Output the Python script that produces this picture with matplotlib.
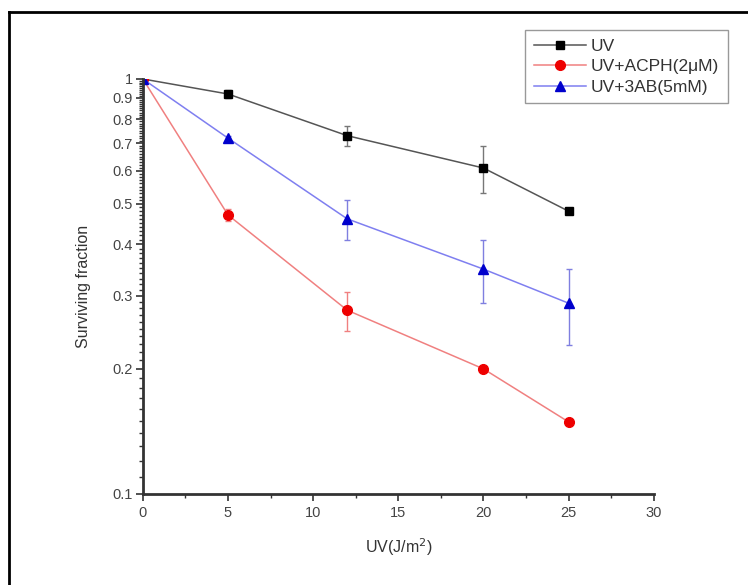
import numpy as np
import matplotlib as mpl
mpl.use('Agg')
import matplotlib.pyplot as plt
from matplotlib.ticker import FixedLocator, FixedFormatter, MultipleLocator
from matplotlib.lines import Line2D

#dose values and surviving fractions
dose = [0, 5, 12, 20, 25]
uv = [1.0, 0.92, 0.73, 0.61, 0.48]
uv_err = [0.0, 0.02, 0.04, 0.08, 0.0]
acph = [1.0, 0.47, 0.277, 0.20, 0.149]
acph_err = [0.0, 0.015, 0.03, 0.0, 0.0]
ab = [1.0, 0.72, 0.46, 0.348, 0.288]
ab_err = [0.0, 0.01, 0.05, 0.06, 0.06]

labels = ["UV", "UV+ACPH(2\u03bcM)", "UV+3AB(5mM)"]
ytick_vals = [0.1, 0.2, 0.3, 0.4, 0.5, 0.6, 0.7, 0.8, 0.9, 1.0]
ytick_text = ["0.1", "0.2", "0.3", "0.4", "0.5", "0.6", "0.7", "0.8", "0.9", "1"]

plt.rcParams['font.family'] = ['Liberation Sans', 'DejaVu Sans']

fig = plt.figure(figsize=(7.48, 5.85), dpi=100)
ax = fig.add_axes([0.191, 0.156, 0.683, 0.709])

#black / red / blue series, lines lighter than markers like in the original
styles = [
   dict(color='#555555', marker='s', ms=6, mfc='black', ecolor='#777777'),
   dict(color='#f08080', marker='o', ms=7, mfc='#ee0000', ecolor='#f08080'),
   dict(color='#7f7ff0', marker='^', ms=7, mfc='#0000cc', ecolor='#7f7fe0'),
]
handles = []
for vals, errs, st in zip([uv, acph, ab], [uv_err, acph_err, ab_err], styles):
   ax.errorbar(dose, vals, yerr=errs, color=st['color'], lw=1.1, marker=st['marker'],
               ms=st['ms'], mfc=st['mfc'], mec=st['mfc'], ecolor=st['ecolor'],
               elinewidth=1.0, capsize=2.5)
   handles.append(Line2D([], [], color=st['color'], lw=1.1, marker=st['marker'],
                         ms=st['ms'], mfc=st['mfc'], mec=st['mfc']))

ax.set_yscale('log')
ax.set_xlim(0, 30)
ax.set_ylim(0.1, 1.0)

ax.xaxis.set_major_locator(MultipleLocator(5))
ax.xaxis.set_minor_locator(MultipleLocator(2.5))
ax.yaxis.set_major_locator(FixedLocator(ytick_vals))
ax.yaxis.set_major_formatter(FixedFormatter(ytick_text))
ax.yaxis.set_minor_locator(FixedLocator(np.arange(0.1, 1.0, 0.01)))
ax.yaxis.set_minor_formatter(FixedFormatter([]))

for side in ['top', 'right']:
   ax.spines[side].set_visible(False)
for side in ['left', 'bottom']:
   ax.spines[side].set_linewidth(2.0)
   ax.spines[side].set_color('#333333')

ax.tick_params(which='major', direction='out', length=5, width=1.2, colors='#333333',
               labelsize=10.5, labelcolor='#444444')
ax.tick_params(which='minor', direction='out', length=3, width=1.0, colors='#333333')
ax.tick_params(axis='y', which='major', pad=2)

ax.set_xlabel("UV(J/m$^2$)", fontsize=11.5, color='#333333', labelpad=12)
ax.set_ylabel("Surviving fraction", fontsize=11.5, color='#333333', labelpad=16)

leg = ax.legend(handles, labels, loc='upper right', bbox_to_anchor=(1.145, 1.118),
                borderaxespad=0, fontsize=12.5, fancybox=False, framealpha=1,
                edgecolor='#999999', handlelength=3.0, handletextpad=0.3,
                labelspacing=0.3, borderpad=0.5)
for t in leg.get_texts():
   t.set_color('#333333')

#outer frame around the picture (left and top edges visible)
fig.add_artist(Line2D([9/748, 9/748], [0, 1-12/585], transform=fig.transFigure,
                      color='black', lw=2.0))
fig.add_artist(Line2D([9/748, 1], [1-12/585, 1-12/585], transform=fig.transFigure,
                      color='black', lw=2.0))

plt.savefig("out.png", dpi=100)
